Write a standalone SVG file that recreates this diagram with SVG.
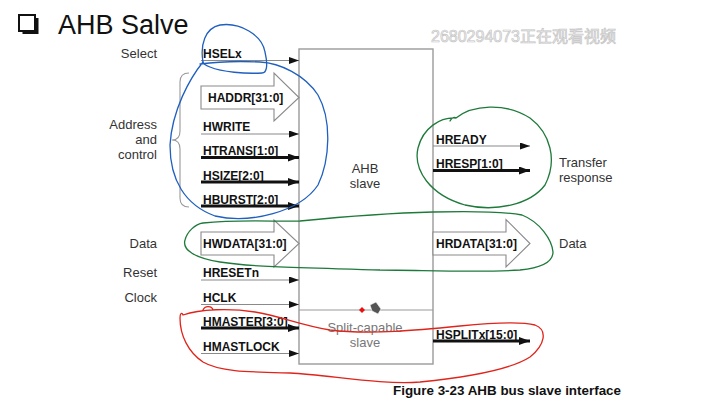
<svg xmlns="http://www.w3.org/2000/svg" width="712" height="413" viewBox="0 0 712 413">
  <style>
    .title { font-family: "Liberation Sans", Arial, sans-serif; font-size: 27px; fill: #111; }
    .lbl { font-family: "Liberation Sans", Arial, sans-serif; font-size: 13px; fill: #333; }
    .lbl-r { text-anchor: end; }
    .mid { text-anchor: middle; }
    .faint { fill: #777; }
    .sig { font-family: "Liberation Sans", Arial, sans-serif; font-size: 12px; font-weight: bold; fill: #111; }
    .cap { font-family: "Liberation Sans", Arial, sans-serif; font-size: 13.4px; font-weight: bold; fill: #111; }
    .wm { font-family: "Liberation Sans", "Noto Sans CJK SC", sans-serif; font-size: 16px; fill: #f6f6f6; stroke: #c4c4c4; stroke-width: 0.7; }
    .thin { stroke: #8a8a8a; stroke-width: 1.2; fill: none; marker-end: url(#head); }
    .thick { stroke: #111; stroke-width: 3; fill: none; marker-end: url(#head-bold); }
    .bus { fill: #fff; stroke: #8a8a8a; stroke-width: 1.1; }
    .box { fill: #fff; stroke: #9a9a9a; stroke-width: 1.4; }
    .brace { fill: none; stroke: #999; stroke-width: 1.1; }
    .ink { fill: none; stroke-width: 1.3; stroke-linecap: round; stroke-linejoin: round; }
    .blue { stroke: #1f5fbf; }
    .green { stroke: #1e7a3a; }
    .red { stroke: #e0241b; }
  </style>
  <defs>
    <marker id="head" markerUnits="userSpaceOnUse" markerWidth="11" markerHeight="8" refX="10" refY="3.5" orient="auto">
      <path d="M0,0 L10,3.5 L0,7 Z" fill="#111"/>
    </marker>
    <marker id="head-bold" markerUnits="userSpaceOnUse" markerWidth="12" markerHeight="9" refX="11" refY="4" orient="auto">
      <path d="M0,0 L11,4 L0,8 Z" fill="#111"/>
    </marker>
  </defs>

  <rect width="712" height="413" fill="#fff"/>

  <!-- slide heading with checkbox bullet -->
  <g id="heading">
    <rect x="22.5" y="18" width="16" height="16" fill="#111"/>
    <rect x="19" y="15" width="16" height="16" fill="#fff" stroke="#111" stroke-width="2"/>
    <text class="title" x="58" y="34">AHB Salve</text>
  </g>

  <!-- viewer watermark -->
  <text class="wm" x="431" y="42">2680294073正在观看视频</text>

  <!-- slave block -->
  <g id="ahb-slave">
    <rect class="box" x="299" y="49" width="134" height="315"/>
    <line x1="299" y1="310" x2="433" y2="310" stroke="#9a9a9a" stroke-width="1.2"/>
    <text class="lbl mid" x="365" y="173">AHB</text>
    <text class="lbl mid" x="365" y="188">slave</text>
    <text class="lbl mid faint" x="365" y="331.5">Split-capable</text>
    <text class="lbl mid faint" x="365" y="346.5">slave</text>
  </g>

  <!-- group labels -->
  <g id="labels">
    <text class="lbl lbl-r" x="157" y="57.5">Select</text>
    <text class="lbl lbl-r" x="157" y="129">Address</text>
    <text class="lbl lbl-r" x="157" y="144">and</text>
    <text class="lbl lbl-r" x="157" y="159">control</text>
    <text class="lbl lbl-r" x="157" y="248">Data</text>
    <text class="lbl lbl-r" x="157" y="277">Reset</text>
    <text class="lbl lbl-r" x="157" y="302">Clock</text>
    <text class="lbl" x="559" y="166.5">Transfer</text>
    <text class="lbl" x="559" y="181.5">response</text>
    <text class="lbl" x="559" y="248">Data</text>
    <path class="brace" d="M189,73 Q180,73 180,82 L180,131 Q180,140 172,140 Q180,140 180,149 L180,198 Q180,207 189,207"/>
  </g>

  <!-- signals -->
  <g id="connectors">
    <line class="thin" x1="201" y1="60.5" x2="299" y2="60.5"/>
    <path class="bus" d="M201,86 H274 V73 L299,97.5 L274,121 V109 H201 Z"/>
    <line class="thin" x1="201" y1="134" x2="299" y2="134"/>
    <line class="thick" x1="201" y1="157.5" x2="299" y2="157.5"/>
    <line class="thick" x1="201" y1="182" x2="299" y2="182"/>
    <line class="thick" x1="201" y1="206" x2="299" y2="206"/>
    <path class="bus" d="M201,232 H274 V220 L299,243.5 L274,267 V255 H201 Z"/>
    <line class="thin" x1="201" y1="280" x2="299" y2="280"/>
    <line class="thin" x1="201" y1="304.5" x2="299" y2="304.5"/>
    <line class="thick" x1="201" y1="328" x2="299" y2="328"/>
    <line class="thin" x1="201" y1="353.5" x2="299" y2="353.5"/>

    <line class="thin" x1="433" y1="146" x2="530" y2="146"/>
    <line class="thick" x1="433" y1="170.5" x2="530" y2="170.5"/>
    <path class="bus" d="M433,232 H506 V219.5 L530,243.5 L506,267 V255 H433 Z"/>
    <line class="thick" x1="433" y1="341" x2="530" y2="341"/>
  </g>

  <g id="signal-names">
    <text class="sig" x="203" y="57.5">HSELx</text>
    <text class="sig" x="208" y="101.5">HADDR[31:0]</text>
    <text class="sig" x="203" y="131">HWRITE</text>
    <text class="sig" x="203" y="155">HTRANS[1:0]</text>
    <text class="sig" x="203" y="180">HSIZE[2:0]</text>
    <text class="sig" x="203" y="204">HBURST[2:0]</text>
    <text class="sig" x="203" y="248">HWDATA[31:0]</text>
    <text class="sig" x="203" y="277">HRESETn</text>
    <text class="sig" x="203" y="301.5">HCLK</text>
    <text class="sig" x="203" y="326">HMASTER[3:0]</text>
    <text class="sig" x="203" y="350.5">HMASTLOCK</text>
    <text class="sig" x="436" y="143.5">HREADY</text>
    <text class="sig" x="436" y="168">HRESP[1:0]</text>
    <text class="sig" x="436" y="248">HRDATA[31:0]</text>
    <text class="sig" x="436" y="338.5">HSPLITx[15:0]</text>
  </g>

  <!-- pen annotations -->
  <g id="annotations">
    <path class="ink blue" d="M203,62 C200,45 205,28 220,25 C240,22 262,35 265,52 C268,65 267,73 262,73 C245,74 222,72 210,67 C205,65 203,63 203,62"/>
    <path class="ink blue" d="M203,62 C190,78 172,110 170,145 C170,180 185,205 215,216 C250,224 300,212 318,185 C330,160 332,120 318,95 C305,75 280,63 260,62 C240,61 215,62 200,64"/>
    <path class="ink green" d="M450,121 C452,117 455,117 456,118 C472,105 505,102 530,118 C550,133 558,160 545,185 C530,205 495,212 465,205 C430,195 413,170 418,148 C423,128 440,117 456,118"/>
    <path class="ink green" d="M203,223 C240,219 280,222 300,221 C340,217 390,213 433,212 C470,211 505,212 522,215 C540,222 552,240 553,252 C553,262 540,268 520,270 C480,273 420,270 380,270 C320,268 260,268 220,262 C195,258 182,250 185,240 C187,232 195,224 203,223"/>
    <path class="ink red" d="M203,310 C205,305 212,306 213,310 M183,315 C200,309 230,308 255,312 C280,316 300,325 330,330 C370,335 420,330 460,326 C490,323 520,321 535,325 C548,330 545,345 530,357 C510,370 470,377 420,382 C380,385 330,375 290,373 C250,372 220,372 203,362 C188,352 180,335 180,318 C180,313 182,312 183,315"/>
    <path d="M362,307 L365,310 L362,313 L359,310 Z" fill="#e81010"/>
    <path d="M370,305 L376,302 L381,309 L378,314 L372,311 Z" fill="#555" stroke="#fff" stroke-width="0.6"/>
  </g>

  <text class="cap" x="393" y="395">Figure 3-23 AHB bus slave interface</text>
</svg>
